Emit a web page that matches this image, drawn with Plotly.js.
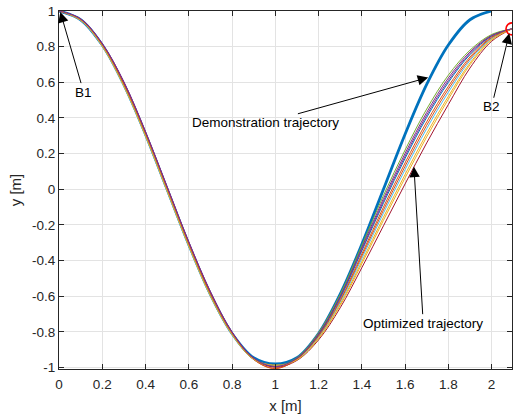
<!DOCTYPE html>
<html><head><meta charset="utf-8">
<script src="https://cdn.plot.ly/plotly-3.0.1.min.js"></script>
<style>html,body{margin:0;padding:0;background:#fff}</style>
</head><body><div id="chart" style="width:513px;height:416px"></div>
<script>
// ---- data ----
const xGrid = [0,0.1,0.2,0.3,0.4,0.5,0.6,0.7,0.8,0.9,1.0,1.1,1.2,1.3,1.4,1.5,1.6,1.7,1.8,1.9,2.0,2.0944];
const demoX = [0,0.1,0.2,0.3,0.4,0.5,0.6,0.7,0.8,0.9,1.0,1.1,1.2,1.3,1.4,1.5,1.6,1.7,1.8,1.9,2.0];
const demoY = [1,0.951,0.809,0.588,0.309,0,-0.309,-0.588,-0.809,-0.945,-0.98,-0.945,-0.809,-0.588,-0.309,0,0.309,0.588,0.809,0.951,1];

const opt1  = [1,0.952,0.811,0.592,0.313,0.004,-0.305,-0.584,-0.807,-0.955,-1.006,-0.951,-0.820,-0.619,-0.363,-0.100,0.148,0.378,0.577,0.742,0.854,0.9];
const opt2  = [1,0.949,0.804,0.580,0.301,-0.008,-0.317,-0.596,-0.814,-0.953,-0.986,-0.956,-0.834,-0.644,-0.405,-0.157,0.083,0.313,0.521,0.708,0.841,0.9];
const opt3  = [1,0.956,0.818,0.603,0.324,0.015,-0.294,-0.573,-0.800,-0.947,-0.995,-0.947,-0.809,-0.598,-0.328,-0.052,0.201,0.431,0.624,0.770,0.864,0.9];
const opt4  = [1,0.951,0.809,0.588,0.309,0.000,-0.309,-0.588,-0.809,-0.951,-0.992,-0.945,-0.805,-0.590,-0.315,-0.035,0.220,0.450,0.640,0.780,0.868,0.9];
const opt5  = [1,0.947,0.801,0.574,0.295,-0.014,-0.323,-0.602,-0.817,-0.955,-0.990,-0.954,-0.828,-0.634,-0.388,-0.134,0.110,0.340,0.544,0.722,0.846,0.9];
const opt6  = [1,0.953,0.814,0.596,0.317,0.008,-0.301,-0.580,-0.804,-0.949,-0.998,-0.960,-0.845,-0.665,-0.440,-0.205,0.030,0.260,0.475,0.680,0.830,0.9];
const opt7  = [1,0.950,0.807,0.584,0.305,-0.004,-0.313,-0.592,-0.811,-0.952,-0.990,-0.949,-0.815,-0.609,-0.346,-0.078,0.173,0.403,0.599,0.755,0.859,0.9];
const opt8  = [1,0.951,0.810,0.590,0.311,0.002,-0.307,-0.586,-0.808,-0.954,-1.004,-0.952,-0.824,-0.626,-0.375,-0.117,0.129,0.359,0.561,0.732,0.850,0.9];
const opt9  = [1,0.948,0.803,0.578,0.299,-0.010,-0.319,-0.598,-0.815,-0.953,-0.988,-0.957,-0.838,-0.652,-0.418,-0.174,0.064,0.294,0.505,0.698,0.837,0.9];
const opt10 = [1,0.955,0.816,0.600,0.321,0.012,-0.297,-0.576,-0.802,-0.947,-0.994,-0.948,-0.812,-0.604,-0.338,-0.066,0.186,0.416,0.610,0.762,0.861,0.9];

const endPoint = {x: [2.0944], y: [0.9]};

const xTickVals = [0,0.2,0.4,0.6,0.8,1,1.2,1.4,1.6,1.8,2];
const xTickText = ['0','0.2','0.4','0.6','0.8','1','1.2','1.4','1.6','1.8','2'];
const yTickVals = [-1,-0.8,-0.6,-0.4,-0.2,0,0.2,0.4,0.6,0.8,1];
const yTickText = ['-1','-0.8','-0.6','-0.4','-0.2','0','0.2','0.4','0.6','0.8','1'];

const labels = ['B1','Demonstration trajectory','B2','Optimized trajectory'];

// ---- drawing ----
const optSeries = [opt1,opt2,opt3,opt4,opt5,opt6,opt7,opt8,opt9,opt10];
const colors = ['#D95319','#EDB120','#7E2F8E','#77AC30','#4DBEEE','#A2142F','#0072BD','#D95319','#EDB120','#7E2F8E'];
const font = 'Liberation Sans, Arial, Helvetica, sans-serif';

const traces = [{
  x: demoX, y: demoY, mode: 'lines', type: 'scatter',
  line: {color: '#0072BD', width: 2.8, shape: 'spline'}, hoverinfo: 'skip'
}];
optSeries.forEach((ys, i) => traces.push({
  x: xGrid, y: ys, mode: 'lines', type: 'scatter',
  line: {color: colors[i], width: 1, shape: 'spline'}, hoverinfo: 'skip'
}));
traces.push({
  x: endPoint.x, y: endPoint.y, mode: 'markers', type: 'scatter', cliponaxis: false,
  marker: {symbol: 'circle-open', size: 12, color: '#FF0000', line: {width: 1.6, color: '#FF0000'}}
});

const axisCommon = {
  ticks: 'inside', ticklen: 5, tickcolor: '#262626', tickwidth: 1,
  showline: true, linecolor: '#262626', linewidth: 1, mirror: 'ticks',
  showgrid: true, gridcolor: '#e3e3e3', gridwidth: 1, zeroline: false,
  tickfont: {family: font, size: 13.5, color: '#262626'}
};

function ann(text, x, y, ax, ay) {
  return {text: text, x: x, y: y, ax: ax, ay: ay, xref: 'x', yref: 'y', axref: 'x', ayref: 'y',
    showarrow: true, arrowhead: 2, arrowsize: 2.1, arrowwidth: 1, arrowcolor: '#000',
    font: {family: font, size: 13.5, color: '#000'}, standoff: 0, startstandoff: 0};
}

const layout = {
  width: 513, height: 416,
  margin: {l: 59, r: 1, t: 11, b: 47},
  paper_bgcolor: '#fff', plot_bgcolor: '#fff',
  showlegend: false,
  xaxis: Object.assign({}, axisCommon, {
    range: [0, 2.0944], tickvals: xTickVals, ticktext: xTickText, ticklabelstandoff: 3,
    title: {text: 'x [m]', font: {family: font, size: 15, color: '#262626'}, standoff: 9}
  }),
  yaxis: Object.assign({}, axisCommon, {
    range: [-1.008, 1.0], tickvals: yTickVals, ticktext: yTickText,
    title: {text: 'y [m]', font: {family: font, size: 15, color: '#262626'}, standoff: 6}
  }),
  annotations: [
    ann(labels[0], 0.006, 0.995, 0.114, 0.545),
    ann(labels[1], 1.707, 0.627, 0.955, 0.373),
    ann(labels[2], 2.082, 0.875, 2.0, 0.463),
    ann(labels[3], 1.641, 0.127, 1.684, -0.751)
  ]
};

Plotly.newPlot('chart', traces, layout, {staticPlot: true, displayModeBar: false});
</script>
</body></html>
